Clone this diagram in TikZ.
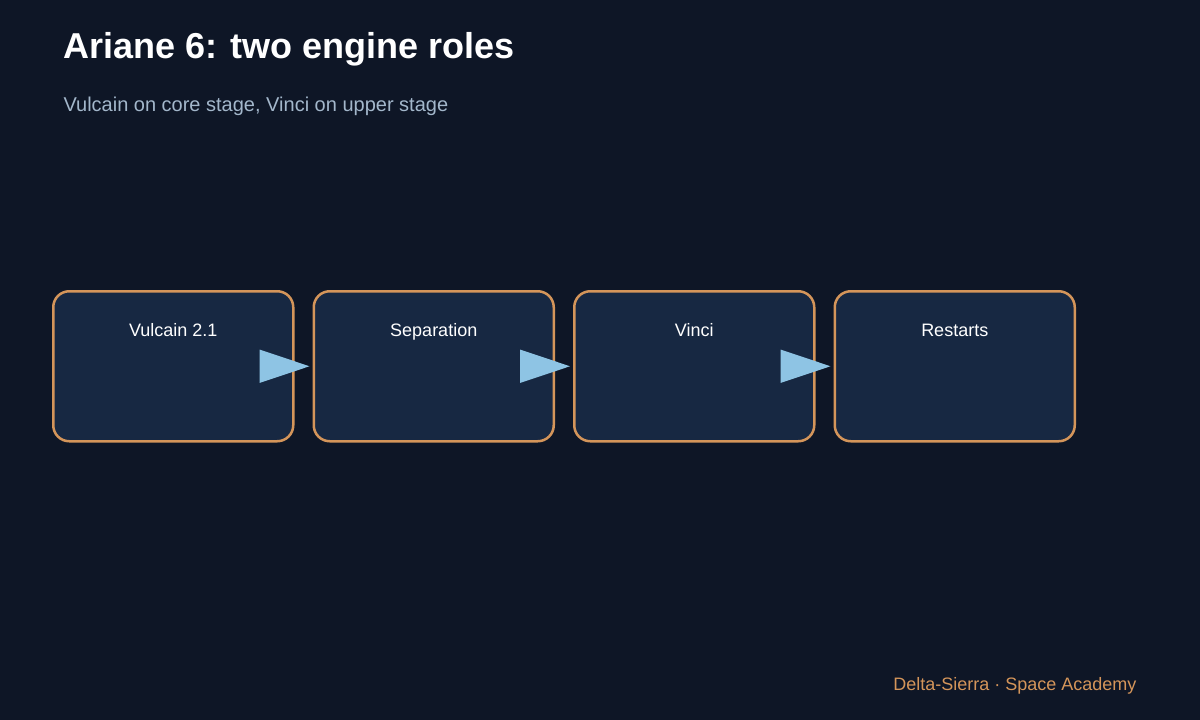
\documentclass[tikz,border=0pt]{standalone}
\usepackage{fontspec}
\setmainfont{Liberation Sans}
\usetikzlibrary{arrows.meta,positioning}
\definecolor{bgcol}{HTML}{0E1626}
\definecolor{boxfill}{HTML}{172842}
\definecolor{boxline}{HTML}{D4955A}
\definecolor{arrowcol}{HTML}{8EC4E4}
\definecolor{subcol}{HTML}{A3B7CB}
\begin{document}
\begin{tikzpicture}[x=1pt,y=-1pt]
  \tikzset{stage/.style={rectangle,rounded corners=16pt,draw=boxline,line width=2.5pt,fill=boxfill,
      minimum width=240pt,minimum height=150pt,anchor=north west},
    lbl/.style={text=white,font=\fontsize{18pt}{20pt}\selectfont},
    flow/.style={-{Triangle[length=50pt,width=33pt]},draw=arrowcol,fill=arrowcol,line width=1.5pt,shorten >=3pt}}
  \fill[bgcol] (0,0) rectangle (1200,720);
  \useasboundingbox (0,0) rectangle (1200,720);

  \node[anchor=base west,text=white,font=\bfseries\fontsize{36pt}{40pt}\selectfont] (title) at (60,58) {Ariane 6: two engine roles};
  \node[anchor=base west,text=subcol,font=\fontsize{20pt}{24pt}\selectfont] (sub) at (60,111) {Vulcain on core stage, Vinci on upper stage};

  \node[stage] (vulcain) at (52,290) {};
  \node[stage,right=18pt of vulcain] (sep) {};
  \node[stage,right=18pt of sep] (vinci) {};
  \node[stage,right=18pt of vinci] (restart) {};

  \node[lbl,anchor=base] at ([yshift=-46pt]vulcain.north) {Vulcain 2.1};
  \node[lbl,anchor=base] at ([yshift=-46pt]sep.north) {Separation};
  \node[lbl,anchor=base] at ([yshift=-46pt]vinci.north) {Vinci};
  \node[lbl,anchor=base] at ([yshift=-46pt]restart.north) {Restarts};

  \draw[flow] (vulcain.east) -- (sep.west);
  \draw[flow] (sep.east) -- (vinci.west);
  \draw[flow] (vinci.east) -- (restart.west);

  \node[anchor=base east,text=boxline,font=\fontsize{18pt}{20pt}\selectfont] (credit) at (1140,690) {Delta-Sierra · Space Academy};
\end{tikzpicture}
\end{document}
